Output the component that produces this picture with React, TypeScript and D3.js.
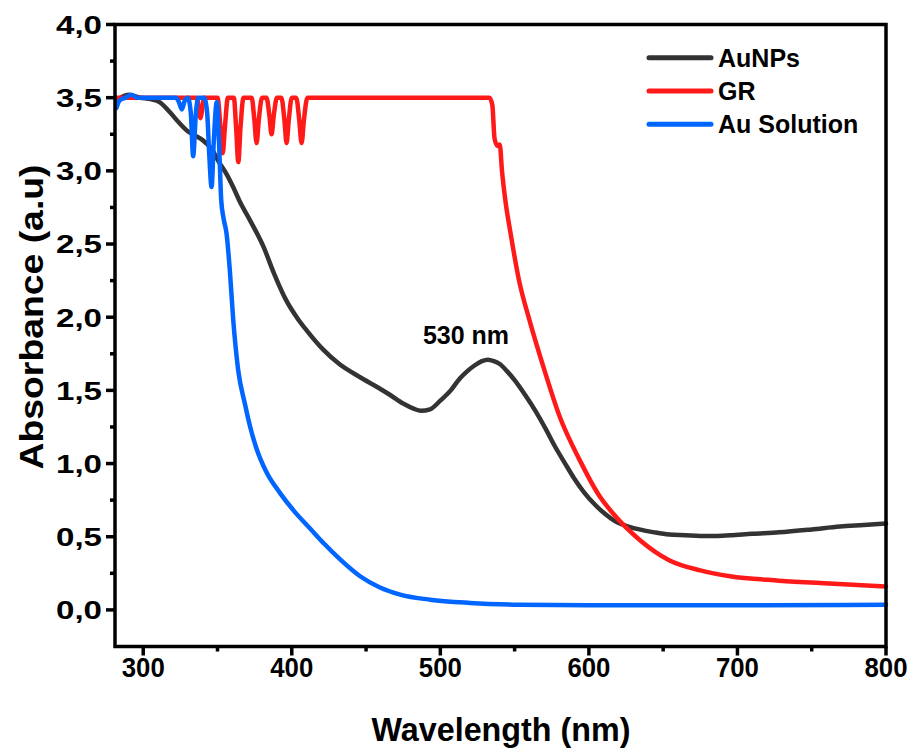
import React, { useEffect, useRef } from "react";
import * as d3 from "d3";

// AuNPs
const auNpsWl = [282, 290, 298, 305, 311, 318, 324, 330, 335, 340, 346, 351, 356, 361, 365, 372, 381, 388, 396, 404, 410, 421, 432, 446, 458, 466, 475, 482, 487, 493, 500, 507, 513, 518, 523, 528, 532, 536, 540, 545, 550, 557, 564, 571, 577, 584, 590, 597, 604, 611, 617, 625, 634, 644, 654, 665, 675, 685, 695, 710, 728, 750, 769, 785, 800];
const auNpsAbs = [3.48, 3.52, 3.5, 3.49, 3.47, 3.4, 3.33, 3.27, 3.24, 3.21, 3.15, 3.06, 2.98, 2.88, 2.79, 2.66, 2.48, 2.3, 2.12, 1.99, 1.91, 1.78, 1.68, 1.59, 1.52, 1.47, 1.41, 1.375, 1.36, 1.37, 1.43, 1.5, 1.58, 1.63, 1.67, 1.7, 1.71, 1.7, 1.68, 1.63, 1.57, 1.47, 1.36, 1.235, 1.12, 1.0, 0.9, 0.8, 0.72, 0.655, 0.61, 0.575, 0.55, 0.53, 0.515, 0.51, 0.505, 0.505, 0.51, 0.52, 0.53, 0.55, 0.57, 0.58, 0.59];

// GR
const grWl = [282, 336, 338.5, 341, 350, 352, 353.5, 355, 357, 361, 362.5, 364, 365.5, 367.5, 373, 374.8, 376.3, 377.8, 380, 383, 384.9, 386.4, 387.9, 390, 393, 395, 396.5, 398, 400, 403, 405, 406.6, 408.2, 410.5, 533, 535, 536.5, 538.5, 540, 541.5, 544, 547, 553, 560, 570, 580, 594, 607, 617, 634, 654, 675, 695, 728, 762, 800];
const grAbs = [3.5, 3.5, 3.36, 3.5, 3.5, 3.3, 3.12, 3.3, 3.5, 3.5, 3.3, 3.06, 3.3, 3.5, 3.5, 3.35, 3.19, 3.35, 3.5, 3.5, 3.38, 3.25, 3.38, 3.5, 3.5, 3.35, 3.19, 3.35, 3.5, 3.5, 3.35, 3.19, 3.35, 3.5, 3.5, 3.45, 3.22, 3.17, 3.18, 3.0, 2.78, 2.59, 2.25, 1.98, 1.64, 1.33, 1.02, 0.78, 0.65, 0.48, 0.34, 0.27, 0.23, 0.2, 0.18, 0.16];

// Au Solution
const auSolWl = [282, 284, 288, 292, 296, 310, 322, 324, 326, 328, 330, 332, 333.6, 335.5, 337, 341, 343, 344.5, 346, 347.5, 349.5, 351, 352.5, 354, 356.1, 358.3, 360.6, 363.9, 368.4, 372, 376, 383, 392, 402, 412, 422, 432, 446, 459, 473, 493, 520, 553.5, 600, 700, 800];
const auSolAbs = [3.43, 3.48, 3.5, 3.52, 3.5, 3.5, 3.5, 3.47, 3.42, 3.48, 3.5, 3.4, 3.1, 3.4, 3.5, 3.5, 3.4, 3.1, 2.89, 3.2, 3.47, 3.2, 2.8, 2.68, 2.57, 2.32, 1.98, 1.64, 1.41, 1.25, 1.11, 0.94, 0.8, 0.67, 0.56, 0.45, 0.35, 0.23, 0.155, 0.105, 0.07, 0.048, 0.036, 0.032, 0.032, 0.036];

const xTicks = [300, 400, 500, 600, 700, 800];
const yTicks = [0, 0.5, 1, 1.5, 2, 2.5, 3, 3.5, 4];

const series = [
  { name: "AuNPs", color: "#333333", wl: auNpsWl, abs: auNpsAbs },
  { name: "GR", color: "#ff1a1a", wl: grWl, abs: grAbs },
  { name: "Au Solution", color: "#0066ff", wl: auSolWl, abs: auSolAbs },
];

const FONT = "'Liberation Sans', Arial, Helvetica, sans-serif";

export default function App() {
  const ref = useRef<SVGSVGElement | null>(null);

  useEffect(() => {
    const svg = d3.select(ref.current);
    svg.selectAll("*").remove();

    const left = 115, right = 886, top = 24.5, bottom = 646.5;
    const x = d3.scaleLinear().domain([281, 800]).range([left, right]);
    const y = d3.scaleLinear().domain([-0.25, 4]).range([bottom, top]);

    const g = svg.append("g");

    // lines
    const line = d3.line<[number, number]>()
      .x(d => x(d[0]))
      .y(d => y(d[1]))
      .curve(d3.curveMonotoneX);

    series.forEach(s => {
      const pts = s.wl.map((w, i) => [w, s.abs[i]] as [number, number]);
      g.append("path")
        .datum(pts)
        .attr("fill", "none")
        .attr("stroke", s.color)
        .attr("stroke-width", 4.5)
        .attr("stroke-linejoin", "round")
        .attr("stroke-linecap", "round")
        .attr("d", line);
    });

    // frame
    g.append("rect")
      .attr("x", left).attr("y", top)
      .attr("width", right - left).attr("height", bottom - top)
      .attr("fill", "none").attr("stroke", "#000").attr("stroke-width", 3.5);

    // y ticks
    d3.range(0, 4.01, 0.25).forEach(v => {
      const major = Math.abs(v * 2 - Math.round(v * 2)) < 1e-6;
      g.append("line")
        .attr("x1", left).attr("x2", left - (major ? 9 : 5))
        .attr("y1", y(v)).attr("y2", y(v))
        .attr("stroke", "#000").attr("stroke-width", 3.5);
    });
    yTicks.forEach(v => {
      g.append("text")
        .attr("x", 102).attr("y", y(v))
        .attr("dy", "0.36em")
        .attr("text-anchor", "end")
        .attr("font-family", FONT).attr("font-weight", "bold")
        .attr("font-size", 26)
        .attr("textLength", 46)
        .attr("lengthAdjust", "spacingAndGlyphs")
        .text(d3.format(".1f")(v).replace(".", ","));
    });

    // x ticks
    d3.range(300, 801, 50).forEach(v => {
      const major = v % 100 === 0;
      g.append("line")
        .attr("x1", x(v)).attr("x2", x(v))
        .attr("y1", bottom).attr("y2", bottom + (major ? 9 : 5))
        .attr("stroke", "#000").attr("stroke-width", 3.5);
    });
    xTicks.forEach(v => {
      g.append("text")
        .attr("x", x(v)).attr("y", 677)
        .attr("text-anchor", "middle")
        .attr("font-family", FONT).attr("font-weight", "bold")
        .attr("font-size", 27)
        .attr("textLength", 43)
        .attr("lengthAdjust", "spacingAndGlyphs")
        .text(String(v));
    });

    // axis titles
    g.append("text")
      .attr("x", 501).attr("y", 741)
      .attr("text-anchor", "middle")
      .attr("font-family", FONT).attr("font-weight", "bold")
      .attr("font-size", 33)
      .attr("textLength", 259)
      .attr("lengthAdjust", "spacingAndGlyphs")
      .text("Wavelength (nm)");

    g.append("text")
      .attr("transform", `translate(43, 317) rotate(-90)`)
      .attr("text-anchor", "middle")
      .attr("font-family", FONT).attr("font-weight", "bold")
      .attr("font-size", 33)
      .attr("textLength", 305)
      .attr("lengthAdjust", "spacingAndGlyphs")
      .text("Absorbance (a.u)");

    // annotation
    g.append("text")
      .attr("x", 466).attr("y", 344)
      .attr("text-anchor", "middle")
      .attr("font-family", FONT).attr("font-weight", "bold")
      .attr("font-size", 25)
      .text("530 nm");

    // legend
    const legend = g.append("g");
    series.forEach((s, i) => {
      const ly = 57.7 + i * 33.3;
      legend.append("line")
        .attr("x1", 649).attr("x2", 711)
        .attr("y1", ly).attr("y2", ly)
        .attr("stroke", s.color).attr("stroke-width", 5)
        .attr("stroke-linecap", "round");
      legend.append("text")
        .attr("x", 718).attr("y", ly)
        .attr("dy", "0.36em")
        .attr("font-family", FONT).attr("font-weight", "bold")
        .attr("font-size", 25)
        .text(s.name);
    });
  }, []);

  return (
    <svg ref={ref} width={914} height={751} style={{ display: "block", position: "absolute", left: 0, top: 0, background: "#fff" }} />
  );
}
